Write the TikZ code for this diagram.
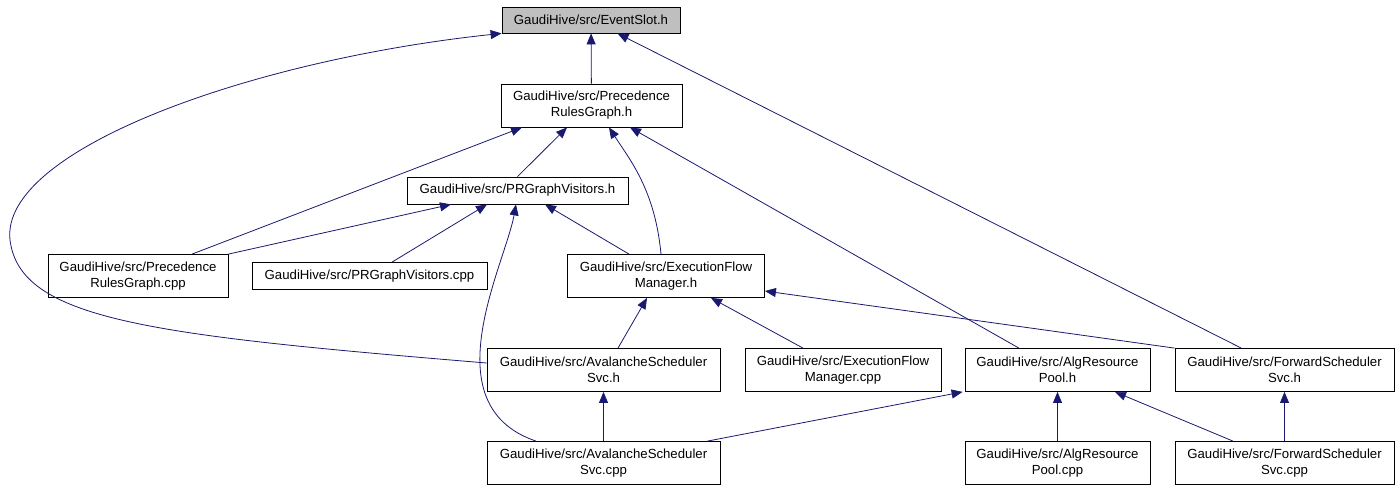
\documentclass[tikz,border=0pt]{standalone}
\usepackage{fontspec}
\setmainfont{Liberation Sans}
\usetikzlibrary{arrows.meta}
\definecolor{edgeblue}{HTML}{191970}
\begin{document}
\begin{tikzpicture}[x=1pt,y=-1pt,
		filebox/.style={draw,rectangle,fill=white,align=center,inner sep=1pt,line width=0.8pt,minimum height=43pt,font=\fontsize{13.2}{16}\selectfont},
		dep/.style={draw=edgeblue,line width=0.8pt,-{Triangle[length=11pt,width=9pt]}}]
		\useasboundingbox (0,0) rectangle (1399,491);
		\node[filebox, fill = black!25, minimum width = 178pt, minimum height = 26pt] at (591,20) (es) {GaudiHive/src/EventSlot.h};
		\node[filebox, minimum width = 181pt] at (591.5,105.5) (prg) {GaudiHive/src/Precedence\\RulesGraph.h};
		\node[filebox, minimum width = 221pt, minimum height = 27pt] at (517.5,190.5) (prgv) {GaudiHive/src/PRGraphVisitors.h};
		\node[filebox, minimum width = 180pt] at (138,276) (prgcpp) {GaudiHive/src/Precedence\\RulesGraph.cpp};
		\node[filebox, minimum width = 235pt, minimum height = 27pt] at (369.5,276) (prgvcpp) {GaudiHive/src/PRGraphVisitors.cpp};
		\node[filebox, minimum width = 197pt] at (666,276) (efm) {GaudiHive/src/ExecutionFlow\\Manager.h};
		\node[filebox, minimum width = 233pt] at (603.5,370) (ass) {GaudiHive/src/AvalancheScheduler\\Svc.h};
		\node[filebox, minimum width = 196pt] at (843,370) (efmcpp) {GaudiHive/src/ExecutionFlow\\Manager.cpp};
		\node[filebox, minimum width = 185pt] at (1057.5,370) (arp) {GaudiHive/src/AlgResource\\Pool.h};
		\node[filebox, minimum width = 219pt] at (1284.5,370) (fss) {GaudiHive/src/ForwardScheduler\\Svc.h};
		\node[filebox, minimum width = 233pt] at (603.5,463) (asscpp) {GaudiHive/src/AvalancheScheduler\\Svc.cpp};
		\node[filebox, minimum width = 185pt] at (1057.5,463) (arpcpp) {GaudiHive/src/AlgResource\\Pool.cpp};
		\node[filebox, minimum width = 219pt] at (1284.5,463) (fsscpp) {GaudiHive/src/ForwardScheduler\\Svc.cpp};
		% into EventSlot.h
		\draw[dep] (prg) to (es);
		\draw[dep] (fss) to (es);
		\draw[dep] ([yshift=7pt]ass.west) .. controls (150,335) and (20,320) .. (10,240) .. controls (0,150) and (250,60) .. (es.south west);
		% into PrecedenceRulesGraph.h
		\draw[dep] (prgv.north) to ([xshift=-24.5pt]prg.south);
		\draw[dep] ([xshift=54pt]prgcpp.north) to ([xshift=-69.5pt]prg.south);
		\draw[dep] ([xshift=-5pt]efm.north) .. controls (655,190) and (630,160) .. ([xshift=17.5pt]prg.south);
		\draw[dep] (arp) to (prg);
		% into PRGraphVisitors.h
		\draw[dep] (prgcpp.north east) to ([xshift=-66.5pt]prgv.south);
		\draw[dep] ([xshift=22.5pt]prgvcpp.north) to ([xshift=-30.5pt]prgv.south);
		\draw[dep] ([xshift=-37pt]efm.north) to ([xshift=27.5pt]prgv.south);
		\draw[dep] ([xshift=-67.5pt]asscpp.north) .. controls (430,405) and (505,265) .. ([xshift=-1.5pt]prgv.south);
		% into ExecutionFlowManager.h
		\draw[dep] ([xshift=14.5pt]ass.north) to ([xshift=-19pt]efm.south);
		\draw[dep] ([xshift=-40pt]efmcpp.north) to ([xshift=45pt]efm.south);
		\draw[dep] (fss.north west) to ([yshift=-15pt]efm.east);
		% lower rows
		\draw[dep] (asscpp) to (ass);
		\draw[dep] ([xshift=-13pt]asscpp.north east) to ([xshift=-2pt]arp.south west);
		\draw[dep] (arpcpp) to (arp);
		\draw[dep] ([xshift=-51.5pt]fsscpp.north) to ([xshift=57.5pt]arp.south);
		\draw[dep] (fsscpp) to (fss);
	\end{tikzpicture}
\end{document}
